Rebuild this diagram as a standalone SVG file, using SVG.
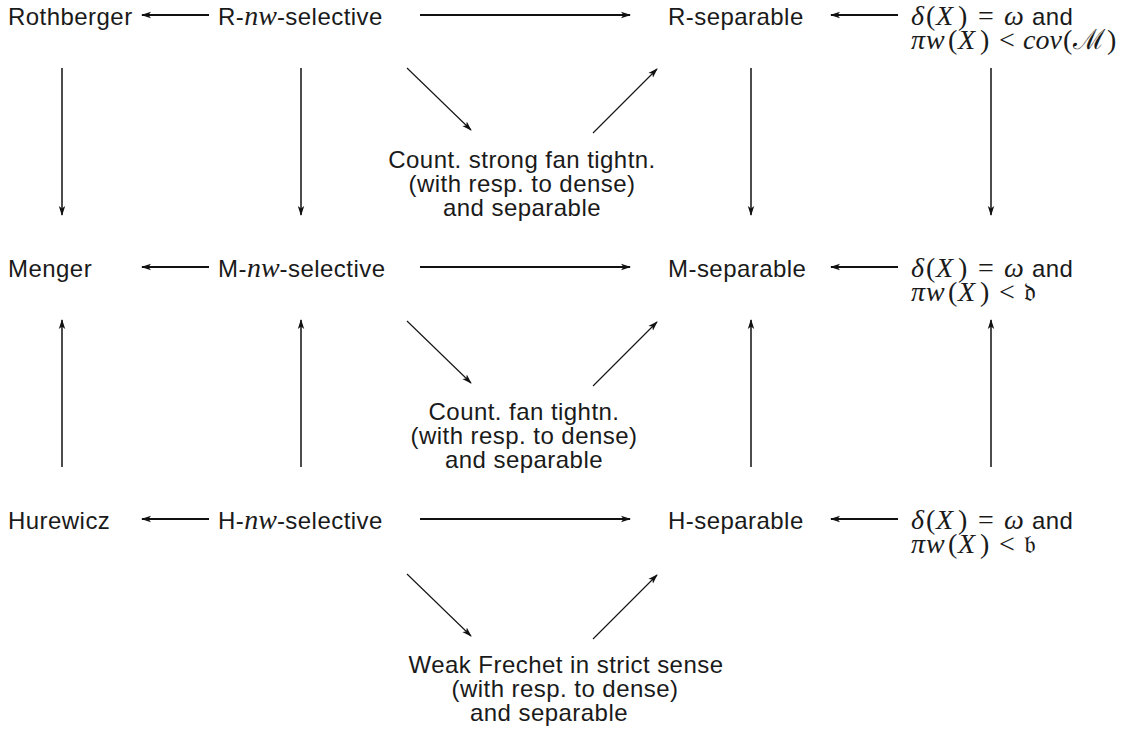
<svg xmlns="http://www.w3.org/2000/svg" width="1134" height="736" viewBox="0 0 1134 736">
<style>
.t{font-family:"Liberation Sans",Arial,sans-serif;font-size:24px;letter-spacing:0.45px;fill:#1a1a1a}
.m{font-family:"Liberation Serif","DejaVu Serif",serif;font-style:italic;font-size:28px;letter-spacing:0}
.u{font-family:"Liberation Serif","DejaVu Serif",serif;font-style:normal;font-size:28px;letter-spacing:0}
.k{letter-spacing:0.45px}
.f{font-family:"DejaVu Serif","DejaVu Sans",serif;font-style:normal;font-size:26px;letter-spacing:0}
.c{text-anchor:middle}
.h{stroke:#111;stroke-width:1.9;fill:none}
.v{stroke:#111;stroke-width:1.5;fill:none}
.d{stroke:#111;stroke-width:1.1;fill:none}
</style>
<defs>
<marker id="a" viewBox="0 0 10 8" refX="9" refY="4" markerWidth="10" markerHeight="8" markerUnits="userSpaceOnUse" orient="auto">
<path d="M0,0.8 L10,4 L0,7.2 L2.5,4 z" fill="#111"/>
</marker>
</defs>
<g id="connectors">
<line class="h" x1="209" y1="15" x2="142" y2="15" marker-end="url(#a)"/>
<line class="h" x1="420" y1="15" x2="630" y2="15" marker-end="url(#a)"/>
<line class="h" x1="898" y1="15" x2="831" y2="15" marker-end="url(#a)"/>
<line class="h" x1="209" y1="267" x2="142" y2="267" marker-end="url(#a)"/>
<line class="h" x1="420" y1="267" x2="630" y2="267" marker-end="url(#a)"/>
<line class="h" x1="898" y1="267" x2="831" y2="267" marker-end="url(#a)"/>
<line class="h" x1="209" y1="519" x2="142" y2="519" marker-end="url(#a)"/>
<line class="h" x1="420" y1="519" x2="630" y2="519" marker-end="url(#a)"/>
<line class="h" x1="898" y1="519" x2="831" y2="519" marker-end="url(#a)"/>
<line class="v" x1="62" y1="68" x2="62" y2="215" marker-end="url(#a)"/>
<line class="v" x1="301" y1="68" x2="301" y2="215" marker-end="url(#a)"/>
<line class="v" x1="751" y1="68" x2="751" y2="215" marker-end="url(#a)"/>
<line class="v" x1="991" y1="68" x2="991" y2="215" marker-end="url(#a)"/>
<line class="v" x1="62" y1="467" x2="62" y2="320" marker-end="url(#a)"/>
<line class="v" x1="301" y1="467" x2="301" y2="320" marker-end="url(#a)"/>
<line class="v" x1="751" y1="467" x2="751" y2="320" marker-end="url(#a)"/>
<line class="v" x1="991" y1="467" x2="991" y2="320" marker-end="url(#a)"/>
<line class="d" x1="407" y1="68" x2="471" y2="130" marker-end="url(#a)"/>
<line class="d" x1="593" y1="133" x2="657" y2="69" marker-end="url(#a)"/>
<line class="d" x1="407" y1="321" x2="471" y2="383" marker-end="url(#a)"/>
<line class="d" x1="593" y1="386" x2="657" y2="322" marker-end="url(#a)"/>
<line class="d" x1="407" y1="574" x2="471" y2="636" marker-end="url(#a)"/>
<line class="d" x1="593" y1="639" x2="657" y2="575" marker-end="url(#a)"/>
</g>
<g id="rothberger"><text class="t" x="8" y="25">Rothberger</text></g>
<g id="r-nw"><text class="t" x="218" y="25">R-<tspan class="m">nw</tspan>-selective</text></g>
<g id="r-sep"><text class="t" x="668" y="25">R-separable</text></g>
<g id="r-cond"><text class="t" y="25"><tspan class="m" x="911">δ</tspan><tspan class="u" x="926">(</tspan><tspan class="m" x="936">X</tspan><tspan class="u" x="958">)</tspan><tspan class="u" x="978">=</tspan><tspan class="m" x="1004">ω</tspan><tspan class="k" x="1032">and</tspan></text><text class="t" y="49"><tspan class="m" x="911">π</tspan><tspan class="m" x="926">w</tspan><tspan class="u" x="948">(</tspan><tspan class="m" x="958">X</tspan><tspan class="u" x="980">)</tspan><tspan class="u" x="999">&lt;</tspan><tspan class="m" x="1023">cov</tspan><tspan class="u" x="1063">(</tspan><tspan class="u" x="1073">ℳ</tspan><tspan class="u" x="1107">)</tspan></text></g>
<g id="menger"><text class="t" x="8" y="277">Menger</text></g>
<g id="m-nw"><text class="t" x="218" y="277">M-<tspan class="m">nw</tspan>-selective</text></g>
<g id="m-sep"><text class="t" x="668" y="277">M-separable</text></g>
<g id="m-cond"><text class="t" y="277"><tspan class="m" x="911">δ</tspan><tspan class="u" x="926">(</tspan><tspan class="m" x="936">X</tspan><tspan class="u" x="958">)</tspan><tspan class="u" x="978">=</tspan><tspan class="m" x="1004">ω</tspan><tspan class="k" x="1032">and</tspan></text><text class="t" y="301"><tspan class="m" x="911">π</tspan><tspan class="m" x="926">w</tspan><tspan class="u" x="948">(</tspan><tspan class="m" x="958">X</tspan><tspan class="u" x="980">)</tspan><tspan class="u" x="999">&lt;</tspan><tspan class="f" x="1024">𝔡</tspan></text></g>
<g id="hurewicz"><text class="t" x="8" y="529">Hurewicz</text></g>
<g id="h-nw"><text class="t" x="218" y="529">H-<tspan class="m">nw</tspan>-selective</text></g>
<g id="h-sep"><text class="t" x="668" y="529">H-separable</text></g>
<g id="h-cond"><text class="t" y="529"><tspan class="m" x="911">δ</tspan><tspan class="u" x="926">(</tspan><tspan class="m" x="936">X</tspan><tspan class="u" x="958">)</tspan><tspan class="u" x="978">=</tspan><tspan class="m" x="1004">ω</tspan><tspan class="k" x="1032">and</tspan></text><text class="t" y="553"><tspan class="m" x="911">π</tspan><tspan class="m" x="926">w</tspan><tspan class="u" x="948">(</tspan><tspan class="m" x="958">X</tspan><tspan class="u" x="980">)</tspan><tspan class="u" x="999">&lt;</tspan><tspan class="f" x="1024">𝔟</tspan></text></g>
<g id="strong-fan"><text class="t c" x="522" y="168">Count. strong fan tightn.</text><text class="t c" x="522" y="192">(with resp. to dense)</text><text class="t c" x="522" y="216">and separable</text></g>
<g id="fan"><text class="t c" x="524" y="420">Count. fan tightn.</text><text class="t c" x="524" y="444">(with resp. to dense)</text><text class="t c" x="524" y="468">and separable</text></g>
<g id="weak-frechet"><text class="t c" x="566" y="673">Weak Frechet in strict sense</text><text class="t c" x="565" y="697">(with resp. to dense)</text><text class="t c" x="549" y="721">and separable</text></g>
</svg>
